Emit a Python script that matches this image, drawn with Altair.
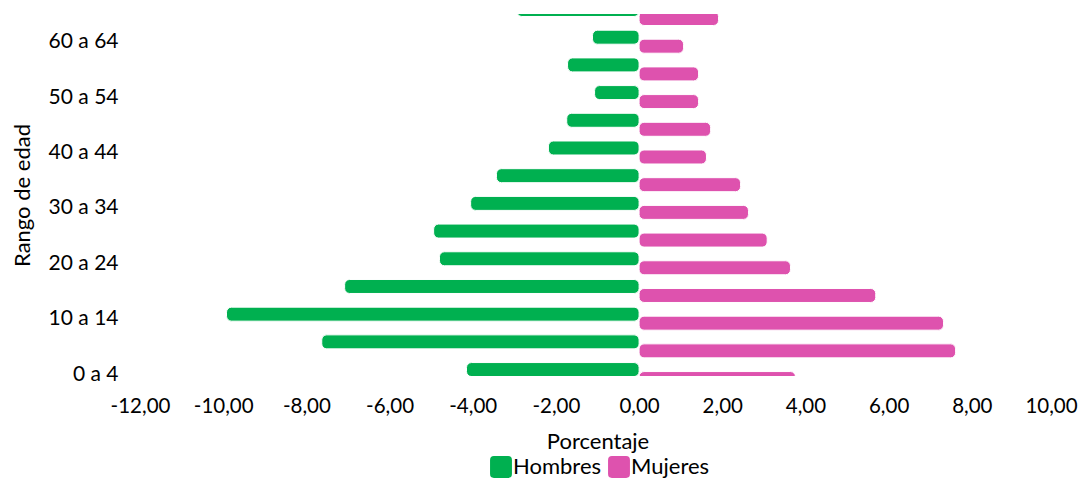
import json
import altair as alt
import pandas as pd

# ---- data ----
categories = ["0 a 4", "5 a 9", "10 a 14", "15 a 19", "20 a 24", "25 a 29", "30 a 34",
              "35 a 39", "40 a 44", "45 a 49", "50 a 54", "55 a 59", "60 a 64", "65 y más"]
hombres = [-4.15, -7.63, -9.92, -7.08, -4.80, -4.94, -4.05,
           -3.43, -2.18, -1.74, -1.07, -1.72, -1.12, -2.94]
mujeres = [3.76, 7.61, 7.32, 5.69, 3.64, 3.08, 2.63,
           2.44, 1.62, 1.72, 1.43, 1.43, 1.07, 1.91]
series = ["Hombres", "Mujeres"]
colors = ["#00B050", "#DE52AE"]
x_ticks = [-12, -10, -8, -6, -4, -2, 0, 2, 4, 6, 8, 10]
y_label_idx = [0, 2, 4, 6, 8, 10, 12]

rows = []
for i, cat in enumerate(categories):
    rows.append({"idx": i, "grupo": cat, "sexo": "Hombres", "valor": hombres[i]})
    rows.append({"idx": i, "grupo": cat, "sexo": "Mujeres", "valor": mujeres[i]})
df = pd.DataFrame(rows)

FONT = "Lato"
rounded_square = ("M-0.65,-1L0.65,-1Q1,-1 1,-0.65L1,0.65Q1,1 0.65,1L-0.65,1"
                  "Q-1,1 -1,0.65L-1,-0.65Q-1,-1 -0.65,-1Z")

x_enc = alt.X(
    "valor:Q",
    stack=None,
    scale=alt.Scale(domain=[-12, 10], nice=False, padding=0),
    axis=alt.Axis(
        values=x_ticks,
        labelExpr="(datum.value < 0 ? '-' : '') + replace(format(abs(datum.value), '.2f'), '.', ',')",
        title="Porcentaje",
        grid=False, domain=False, ticks=False,
        labelPadding=20, titleY=55, labelFlush=False, labelOverlap=False,
        labelFontSize=20.5, titleFontSize=22,
        labelOffset={"condition": {"test": f"datum.value == {x_ticks[-1]}", "value": -4}, "value": 0},
    ),
)
y_enc = alt.Y(
    "idx:Q",
    scale=alt.Scale(domain=[-0.07, 13.0], nice=False, zero=False, padding=0),
    axis=alt.Axis(
        values=y_label_idx,
        labelExpr=json.dumps(categories) + "[datum.value]",
        title="Rango de edad",
        grid=False, domain=False, ticks=False,
        labelPadding=22, titleX=-106, labelFlush=False, labelOverlap=False,
        labelFontSize=21, titleFontSize=22,
    ),
)
color_enc = alt.Color(
    "sexo:N",
    scale=alt.Scale(domain=series, range=colors),
    legend=alt.Legend(
        orient="none", legendX=350, legendY=442, direction="horizontal",
        title=None, symbolType=rounded_square, symbolSize=480,
        symbolStrokeWidth=0, symbolOpacity=1,
        labelFont=FONT, labelFontSize=22, labelColor="black",
        labelOffset=1, columnPadding=6,
    ),
)

base = alt.Chart(df)
bar_style = dict(size=14, cornerRadius=5, stroke="white", strokeWidth=1, clip=True)

muj = base.transform_filter(alt.datum.sexo == "Mujeres").mark_bar(
    yOffset=4.5, **bar_style).encode(x=x_enc, x2=alt.X2(datum=0), y=y_enc, color=color_enc)
hom = base.transform_filter(alt.datum.sexo == "Hombres").mark_bar(
    yOffset=-4.5, **bar_style).encode(x=x_enc, x2=alt.X2(datum=0), y=y_enc, color=color_enc)

chart = alt.layer(muj, hom).properties(
    width=915, height=362,
    autosize=alt.AutoSizeParams(type="none"),
    padding={"left": 132, "top": 6, "right": 25, "bottom": 103},
).configure_view(stroke=None).configure_axis(
    labelFont=FONT, titleFont=FONT,
    labelColor="black", titleColor="black", titleFontWeight="normal",
)

chart.save("out.html", embed_options={"renderer": "svg", "actions": False})
